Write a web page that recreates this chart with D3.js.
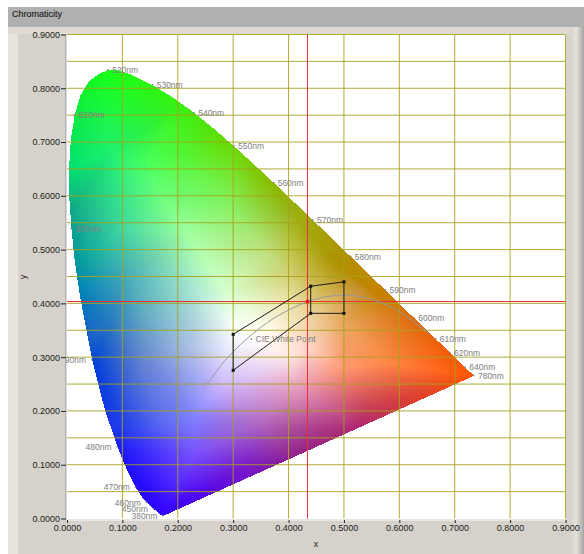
<!DOCTYPE html>
<html>
<head>
<meta charset="utf-8">
<script src="https://cdn.jsdelivr.net/npm/d3@7"></script>
<style>
  html, body { margin: 0; padding: 0; background: #fff; }
  svg { display: block; }
  text { font-family: "Liberation Sans", Arial, sans-serif; }
</style>
</head>
<body>
<svg id="chart" width="584" height="554"></svg>
<script>
// spectral locus (5nm steps, finer round the green peak, then the long red tail)
let locusX = [.1741,.1738,.1733,.1726,.1714,.1689,.1644,.1566,.1510,.1440,.1355,.1241,.1096,.0913,.0687,.0454,.0235,.0140,.0082,.0039,.0039,.0070,.0139,.0240,.0389,.0560,.0743,.0945,.1142,.1547,.1929,.2296,.2658,.3016,.3373,.3731,.4087,.4441,.4788,.5125,.5448,.5752,.6029,.6270,.6482,.6658,.6801,.6915,.7006,.7079,.7140,.7190,.7230,.7260,.7300,.7347]
let locusY = [.0050,.0049,.0048,.0048,.0051,.0069,.0109,.0177,.0227,.0297,.0399,.0578,.0868,.1327,.2007,.2950,.4127,.4780,.5384,.5980,.6548,.7060,.7502,.7860,.8120,.8260,.8338,.8330,.8262,.8059,.7816,.7543,.7243,.6923,.6589,.6245,.5896,.5547,.5202,.4866,.4544,.4242,.3965,.3725,.3514,.3340,.3197,.3083,.2993,.2920,.2859,.2809,.2770,.2740,.2700,.2653]

// wavelength labels
let waveNames = ['380nm','450nm','460nm','470nm','480nm','490nm','500nm','510nm','520nm','530nm','540nm','550nm','560nm','570nm','580nm','590nm','600nm','610nm','620nm','640nm','780nm']
let waveX = [.1741,.1566,.1440,.1241,.0913,.0454,.0082,.0139,.0743,.1547,.2296,.3016,.3731,.4441,.5125,.5752,.6270,.6658,.6915,.7190,.7347]
let waveY = [.0050,.0177,.0297,.0578,.1327,.2950,.5384,.7502,.8338,.8059,.7543,.6923,.6245,.5547,.4866,.4242,.3725,.3340,.3083,.2809,.2653]
let waveLeft = ['380nm','450nm','460nm','470nm','480nm','490nm']

// planckian curve
let curveX = [.247,.2587,.2807,.2952,.3135,.3451,.3805,.4369,.4770,.5267,.5857,.6528]
let curveY = [.244,.2580,.2884,.3048,.3237,.3516,.3768,.4041,.4137,.4133,.3931,.3444]

// bin outline and its divider
let binX = [.30,.44,.50,.50,.44,.30,.30]
let binY = [.3424,.432,.44,.3815,.3815,.2755,.3424]
let dividerX = [.44,.44]
let dividerY = [.432,.3815]

let cursorX = .4342
let cursorY = .4035
let whiteX = .3333
let whiteY = .3333

let axisTicks = d3.range(0, 10).map(i => i / 10)
let yGridTicks = d3.range(0, 19).map(i => i / 20)

// colours, gamut filled by interpolating between them
let swatches = [
  [.075,.87,'#18ff18'],[.075,.83,'#18ff18'],[.023,.79,'#10f030'],[-.02,.80,'#00f040'],[-.03,.65,'#00e070'],[.0,.65,'#00e070'],
  [.008,.573,'#10a888'],[-.03,.5,'#00a090'],[.018,.47,'#0098a0'],[.023,.42,'#0080b8'],[.047,.289,'#0040d8'],[-.02,.3,'#0040d8'],
  [.09,.13,'#1818f8'],[.03,.13,'#1818f8'],[.1,.177,'#2040e8'],[.17,.008,'#3000ff'],[.17,-.03,'#3000ff'],[.09,-.03,'#2000ff'],
  [.204,.772,'#38f010'],[.3,.70,'#68d800'],[.36,.63,'#88c000'],[.415,.555,'#a0b010'],[.493,.467,'#b09000'],[.565,.412,'#c88000'],
  [.613,.375,'#dc7010'],[.673,.319,'#f06008'],[.735,.265,'#ff5500'],[.78,.26,'#ff5000'],[.3,.9,'#40f000'],[.5,.6,'#a8a000'],[.7,.4,'#e06808'],
  [.7,.1,'#ff3000'],[.55,.1,'#b02870'],[.35,-.03,'#6808d8'],[.8,.3,'#ff5000'],
  [.15,.666,'#48ff58'],[.168,.605,'#68ff78'],[.1,.54,'#40d8a0'],[.1,.45,'#40a8b8'],[.216,.53,'#a0ffa0'],[.288,.42,'#d8ffd0'],[.228,.43,'#a8e8d0'],
  [.361,.493,'#c0e080'],[.40,.456,'#d0d070'],[.30,.58,'#88f060'],[.408,.573,'#98b010'],[.2,.68,'#50f838'],[.08,.68,'#20f070'],
  [.168,.177,'#5868f0'],[.228,.188,'#8080ff'],[.228,.12,'#7850ff'],[.252,.053,'#5808e8'],[.408,.108,'#8c1c8c'],[.325,.096,'#7818c8'],
  [.137,.30,'#6888d0'],[.228,.313,'#b0c0e8'],[.09,.29,'#3060d0'],[.078,.363,'#2878c0'],[.137,.393,'#60b0c0'],[.276,.239,'#c8b0ff'],
  [.348,.177,'#b068c0'],[.408,.164,'#a84898'],[.29,.31,'#e8e8ff'],[.3333,.3333,'#ffffff'],[.30,.36,'#f8fff8'],
  [.529,.425,'#c89030'],[.498,.363,'#e8a860'],[.444,.388,'#e8d090'],[.403,.412,'#e8e0a0'],[.444,.313,'#ffd0c0'],[.577,.289,'#ff8848'],
  [.668,.276,'#ff6820'],[.613,.226,'#d84038'],[.541,.207,'#c84058'],[.415,.245,'#e8a0c0'],[.523,.17,'#b02870'],[.37,.35,'#fff8e8'],
  [.5,.28,'#ff9870'],[.4,.3,'#ffe8e8']
]

let svg = d3.select('#chart')

let x = d3.scaleLinear().domain([0, .9]).range([67, 565.5])
let y = d3.scaleLinear().domain([0, .9]).range([518.5, 34.5])

/* Panel */

let defs = svg.append('defs')
let edge = defs.append('linearGradient').attr('id', 'edge')
edge.append('stop').attr('offset', '0%').attr('stop-color', '#d6d2cb')
edge.append('stop').attr('offset', '45%').attr('stop-color', '#e6e2da')
edge.append('stop').attr('offset', '100%').attr('stop-color', '#a4a4a4')
defs.append('clipPath').attr('id', 'plotclip').append('rect')
  .attr('x', 66).attr('y', 34).attr('width', 500).attr('height', 485)

svg.append('rect').attr('x', 8).attr('y', 27).attr('width', 576).attr('height', 527).attr('fill', '#d6d2cb')
svg.append('rect').attr('x', 8).attr('y', 27).attr('width', 10).attr('height', 527).attr('fill', '#e8e4dc')
svg.append('rect').attr('x', 8).attr('y', 27).attr('width', 576).attr('height', 7).attr('fill', '#dfdbd3')
svg.append('rect').attr('x', 570).attr('y', 27).attr('width', 14).attr('height', 527).attr('fill', 'url(#edge)')
svg.append('rect').attr('x', 8).attr('y', 7).attr('width', 576).attr('height', 20).attr('fill', '#b0b0b0')
svg.append('text').text('Chromaticity')
  .attr('x', 12).attr('y', 17).attr('font-size', 9).attr('fill', '#222')
  .attr('stroke', '#222').attr('stroke-width', .15)

svg.append('rect').attr('x', 66).attr('y', 34).attr('width', 500).attr('height', 485).attr('fill', '#fff')
svg.append('rect').attr('x', 65).attr('y', 34).attr('width', 1.5).attr('height', 487).attr('fill', '#b4b4b4')
svg.append('rect').attr('x', 66).attr('y', 519).attr('width', 500).attr('height', 2).attr('fill', '#e8e6e2')

/* Gamut */

let rgbOf = swatches.map(s => d3.rgb(s[2]))
let delaunay = d3.Delaunay.from(swatches, s => s[0], s => s[1])
let tris = d3.range(delaunay.triangles.length / 3).map(i => {
  let [a, b, c] = [delaunay.triangles[i*3], delaunay.triangles[i*3+1], delaunay.triangles[i*3+2]]
  let [pa, pb, pc] = [swatches[a], swatches[b], swatches[c]]
  let det = (pb[1]-pc[1])*(pa[0]-pc[0]) + (pc[0]-pb[0])*(pa[1]-pc[1])
  return {a, b, c, pa, pb, pc, det}
})

let locus = locusX.map((v, i) => [v, locusY[i]])

let colourAt = (u, v) => {
  for (let t of tris) {
    let l1 = ((t.pb[1]-t.pc[1])*(u-t.pc[0]) + (t.pc[0]-t.pb[0])*(v-t.pc[1])) / t.det
    let l2 = ((t.pc[1]-t.pa[1])*(u-t.pc[0]) + (t.pa[0]-t.pc[0])*(v-t.pc[1])) / t.det
    let l3 = 1 - l1 - l2
    if (l1 >= -1e-6 && l2 >= -1e-6 && l3 >= -1e-6) {
      let [ca, cb, cc] = [rgbOf[t.a], rgbOf[t.b], rgbOf[t.c]]
      return [l1*ca.r + l2*cb.r + l3*cc.r, l1*ca.g + l2*cb.g + l3*cc.g, l1*ca.b + l2*cb.b + l3*cc.b]
    }
  }
  let n = rgbOf[delaunay.find(u, v)]
  return [n.r, n.g, n.b]
}

let cw = 500, ch = 485
let canvas = document.createElement('canvas')
canvas.width = cw
canvas.height = ch
let ctx = canvas.getContext('2d')
let img = ctx.createImageData(cw, ch)
for (let j = 0; j < ch; j++) {
  for (let i = 0; i < cw; i++) {
    let u = x.invert(66 + i + .5), v = y.invert(34 + j + .5)
    if (!d3.polygonContains(locus, [u, v])) continue
    let c = colourAt(u, v), k = (j * cw + i) * 4
    img.data[k] = c[0]; img.data[k+1] = c[1]; img.data[k+2] = c[2]; img.data[k+3] = 255
  }
}
ctx.putImageData(img, 0, 0)
svg.append('image').attr('href', canvas.toDataURL())
  .attr('x', 66).attr('y', 34).attr('width', cw).attr('height', ch)
  .style('image-rendering', 'pixelated')

/* Grid */

let grid = svg.append('g').attr('stroke', '#a6a21a').attr('stroke-opacity', .88).attr('stroke-width', 1)
grid.selectAll('line.h').data(yGridTicks.slice(1)).enter().append('line')
  .attr('class', 'h')
  .attr('x1', x(0)).attr('x2', x(.9)).attr('y1', d => y(d)).attr('y2', d => y(d))
grid.selectAll('line.v').data(axisTicks.slice(1)).enter().append('line')
  .attr('class', 'v')
  .attr('x1', d => x(d)).attr('x2', d => x(d)).attr('y1', y(.9)).attr('y2', y(0))

/* Cursor */

let cursor = svg.append('g').attr('stroke', '#e8303a').attr('stroke-width', 1)
cursor.append('line').attr('x1', x(cursorX)).attr('x2', x(cursorX)).attr('y1', y(.9)).attr('y2', y(0))
cursor.append('line').attr('x1', x(0)).attr('x2', x(.9)).attr('y1', y(cursorY)).attr('y2', y(cursorY))

/* Curves */

let line = d3.line().x(d => x(d[0])).y(d => y(d[1]))

svg.append('path')
  .datum(curveX.map((v, i) => [v, curveY[i]]))
  .attr('d', line.curve(d3.curveCatmullRom))
  .attr('fill', 'none').attr('stroke', '#9a9a9a').attr('stroke-width', 1)

line.curve(d3.curveLinear)
let bin = binX.map((v, i) => [v, binY[i]])
svg.append('path').datum(bin).attr('d', line)
  .attr('fill', 'none').attr('stroke', '#1c1c1c').attr('stroke-width', 1)
svg.append('path').datum(dividerX.map((v, i) => [v, dividerY[i]])).attr('d', line)
  .attr('fill', 'none').attr('stroke', '#1c1c1c').attr('stroke-width', 1)
svg.selectAll('rect.mark').data(bin.slice(0, 6)).enter().append('rect')
  .attr('class', 'mark')
  .attr('x', d => x(d[0]) - 1.5).attr('y', d => y(d[1]) - 1.5)
  .attr('width', 3).attr('height', 3).attr('fill', '#111')

svg.append('circle').attr('cx', x(cursorX)).attr('cy', y(cursorY)).attr('r', 2).attr('fill', '#f01818')

/* Labels */

let labels = svg.append('g').attr('clip-path', 'url(#plotclip)')
  .attr('font-size', 8.5).attr('fill', '#808080')

let nodos = labels.selectAll('g').data(waveNames).enter().append('g')
  .attr('transform', (d, i) => `translate(${x(waveX[i])},${y(waveY[i])})`)
nodos.append('rect').attr('x', -1).attr('y', -1).attr('width', 1.5).attr('height', 1.5).attr('fill', '#808080')
nodos.append('text').text(d => d)
  .attr('x', d => waveLeft.includes(d) ? -6 : 4)
  .attr('y', 3)
  .attr('text-anchor', d => waveLeft.includes(d) ? 'end' : 'start')

let wp = labels.append('g').attr('transform', `translate(${x(whiteX)},${y(whiteY)})`)
wp.append('rect').attr('x', -1).attr('y', -1).attr('width', 1.5).attr('height', 1.5).attr('fill', '#808080')
wp.append('text').text('CIE White Point').attr('x', 4).attr('y', 3)

/* Axes */

let fmt = d3.format('.4f')
let styleAxis = g => {
  g.select('.domain').remove()
  g.selectAll('line').attr('stroke', '#222')
  g.selectAll('text').attr('font-size', 9).attr('fill', '#222')
    .attr('font-family', '"Liberation Sans", Arial, sans-serif')
}

svg.append('g').attr('transform', 'translate(66,0)')
  .call(d3.axisLeft(y).tickValues(axisTicks).tickFormat(fmt).tickSize(5).tickPadding(1))
  .call(styleAxis)

svg.append('g').attr('transform', 'translate(0,520)')
  .call(d3.axisBottom(x).tickValues(axisTicks).tickFormat(fmt).tickSize(3).tickPadding(2))
  .call(styleAxis)

svg.append('text').text('x').attr('x', 316).attr('y', 547)
  .attr('text-anchor', 'middle').attr('font-size', 9).attr('fill', '#222')
svg.append('text').text('y')
  .attr('transform', 'translate(26,277) rotate(-90)')
  .attr('text-anchor', 'middle').attr('font-size', 9).attr('fill', '#222')
</script>
</body>
</html>
